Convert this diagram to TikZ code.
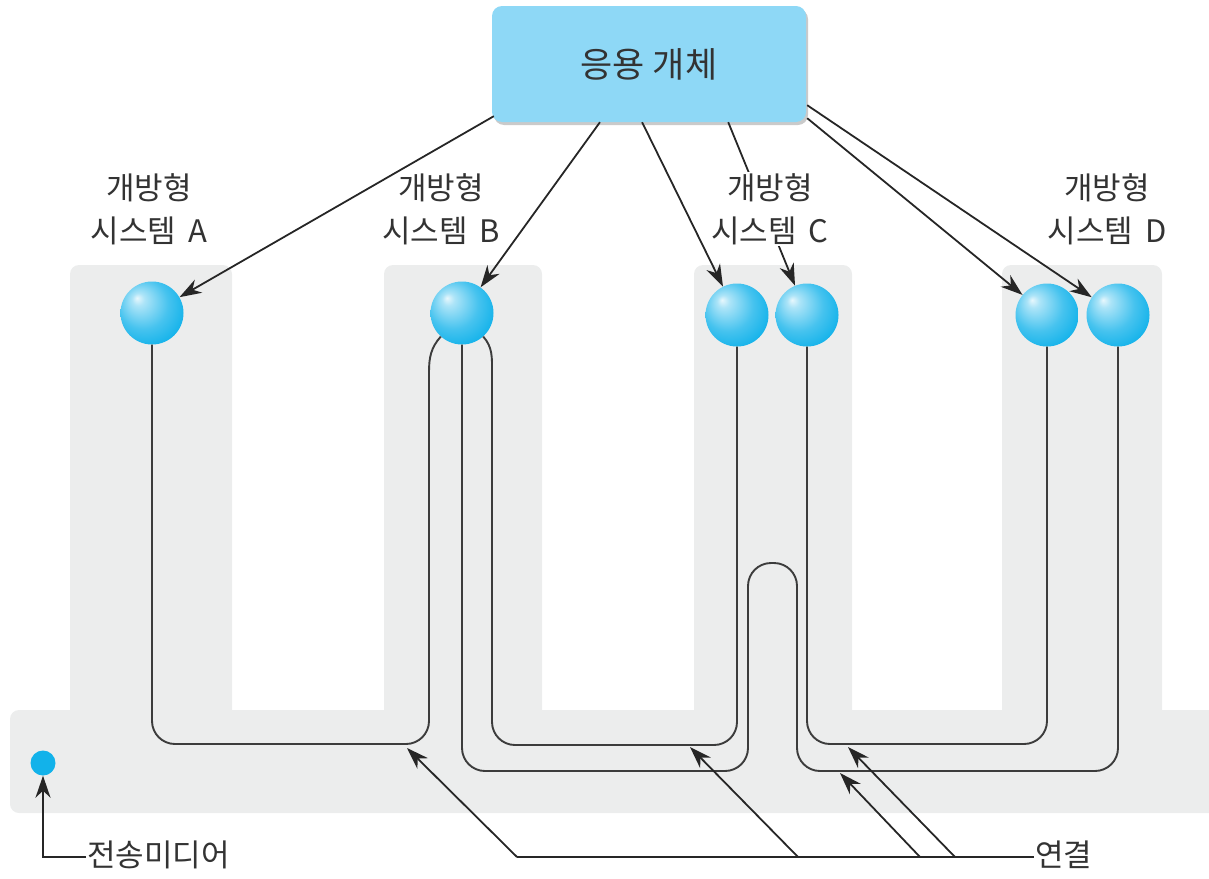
\documentclass[tikz,border=0pt]{standalone}
\usepackage{fontspec}
\setmainfont{Noto Sans CJK KR}
\usetikzlibrary{arrows.meta,shadows,calc}
\definecolor{bandgray}{HTML}{ECEDED}
\definecolor{boxblue}{HTML}{8ED8F6}
\definecolor{ballc}{HTML}{12B2EA}
\definecolor{txt}{HTML}{333333}
\definecolor{wire}{HTML}{3C3C3C}
\pgfdeclareradialshading{sphereshade}{\pgfpoint{-12bp}{12bp}}{color(0bp)=(white!90!ballc); color(5bp)=(white!65!ballc); color(20bp)=(white!22!ballc); color(32bp)=(ballc); color(50bp)=(ballc)}
\tikzset{
  lbl/.style={font=\fontsize{31}{43}\selectfont, text=txt, align=center, inner sep=1pt},
  sph/.style={circle, minimum size=63pt, inner sep=0pt, shade, shading=sphereshade},
  col/.style={fill=bandgray, rounded corners=9pt},
  conn/.style={draw=wire, line width=1.9pt, rounded corners=23pt},
  connc/.style={draw=wire, line width=1.9pt},
  tip/.style={-{Stealth[length=22pt,width=15pt,inset=7pt]}},
  arr/.style={draw=black!85, line width=1.8pt, tip},
  ptr/.style={draw=black!85, line width=1.8pt}
}
\newcommand{\gap}{\hspace{0.38em}}
\begin{document}
\begin{tikzpicture}[x=1pt,y=-1pt]
\useasboundingbox (0,0) rectangle (1209,878);
% grey transmission media
\fill[col] (70,265) rectangle (232,730);
\fill[col] (384,265) rectangle (542,730);
\fill[col] (694,265) rectangle (852,730);
\fill[col] (1002,265) rectangle (1162,730);
\fill[col] (10,710) rectangle (1230,813);
% application entity
\node[draw=none, fill=boxblue, rounded corners=10pt, minimum width=314pt, minimum height=116pt,
      drop shadow={shadow xshift=2pt, shadow yshift=-3pt, fill=black!35, opacity=0.6},
      font=\fontsize{35}{40}\selectfont, text=txt] (app) at (649,64) {응용 개체};
% spheres
\node[sph] (A) at (152,313) {};
\node[sph] (B) at (462,313) {};
\node[sph] (C1) at (737,315) {};
\node[sph] (C2) at (807,315) {};
\node[sph] (D1) at (1047,315) {};
\node[sph] (D2) at (1118,315) {};
% arrows from the application entity
\coordinate (sA) at ($(app.south west)+(2,-6)$);
\coordinate (sB) at ($(app.south west)!0.344!(app.south east)$);
\coordinate (sC1) at ($(app.south west)!0.478!(app.south east)$);
\coordinate (sC2) at ($(app.south west)!0.752!(app.south east)$);
\coordinate (sD2) at ($(app.south east)+(1,-17)$);
\coordinate (sD1) at ($(app.south east)+(1,-4)$);
\draw[arr] (sA) -- (A);
\draw[arr] (sB) -- (B);
\draw[arr] (sC1) -- (C1);
\draw[arr] (sC2) -- (C2);
\draw[arr] (sD1) -- (D1);
\draw[arr] (sD2) -- (D2);
% labels
\node[lbl] (lA) at (149,209) {개방형\\시스템\gap A};
\node[lbl] (lB) at (441,209) {개방형\\시스템\gap B};
\node[lbl, fill=white] (lC) at (770,209) {개방형\\시스템\gap C};
\node[lbl] (lD) at (1107,209) {개방형\\시스템\gap D};
% connections
\coordinate (jL) at (429,372);
\coordinate (jR) at (492,372);
\draw[connc] (B.-132) to[out=-132,in=90] (jL);
\draw[connc] (B.-48) to[out=-48,in=90] (jR);
\draw[conn] (A.south) -- (152,744) -- (429,744) -- (jL);
\draw[conn] (jR) -- (492,745) -- (737,745) -- (C1.south);
\draw[conn] (B.south) -- (462,771) -- (748,771) -- (748,563) -- (797,563) -- (797,771) -- (1118,771) -- (D2.south);
\draw[conn] (C2.south) -- (807,744) -- (1047,744) -- (D1.south);
% transmission media label
\node[circle, fill=ballc, minimum size=25pt, inner sep=0pt] (dot) at (43,763) {};
\node[lbl, anchor=west] (tm) at (86,855) {전송미디어};
\coordinate (tmc) at (43,857);
\draw[ptr, tip] (tm.west |- tmc) -- (tmc) -- (dot);
% connection label
\node[lbl, anchor=west] (cx) at (1034,855) {연결};
\coordinate (b1) at (517,857);
\coordinate (b2) at (798,857);
\coordinate (b3) at (920,857);
\coordinate (b4) at (955,857);
\coordinate (t1) at (407,748);
\coordinate (t2) at (690,747);
\coordinate (t3) at (840,773);
\coordinate (t4) at (848,747);
\draw[ptr] (b1) -- (cx.west |- b1);
\draw[arr] (b1) -- (t1);
\draw[arr] (b2) -- (t2);
\draw[arr] (b3) -- (t3);
\draw[arr] (b4) -- (t4);
\end{tikzpicture}
\end{document}
